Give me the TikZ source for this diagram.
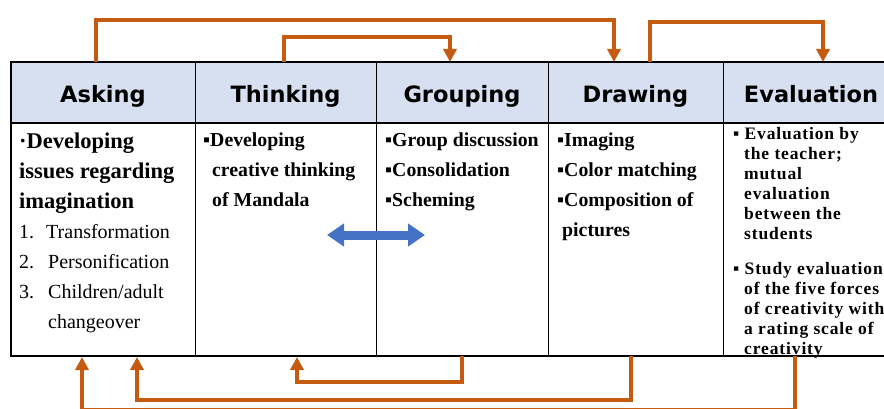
\documentclass[tikz,border=0pt]{standalone}
\usepackage{fontspec}
\setmainfont{Liberation Serif}
\newfontfamily\headfont{DejaVu Sans}
\usetikzlibrary{positioning}
\usetikzlibrary{arrows.meta}
\usetikzlibrary{calc}
\definecolor{rust}{RGB}{197,90,17}
\definecolor{pale}{RGB}{214,224,240}
\definecolor{bleu}{RGB}{68,114,196}
\newcommand\bigline{\fontsize{22.5}{30}\selectfont}
\newcommand\numline[2][29pt]{\mdseries\fontsize{20}{30}\selectfont\makebox[#1][l]{#2}}

\begin{document}
\begin{tikzpicture}[x=1pt, y=-1pt,
  head/.style={draw, fill=pale, line width=1pt, outer sep=0pt, inner sep=0pt, minimum height=61pt, text height=21pt, text depth=0pt, font=\headfont\bfseries\fontsize{22.5}{26}\selectfont},
  cell/.style={draw, line width=1pt, outer sep=0pt, inner sep=0pt, minimum height=233pt},
  txt/.style={anchor=north west, inner sep=0pt, align=left, font=\bfseries\fontsize{19.8}{30}\selectfont},
  small/.style={txt, font=\bfseries\fontsize{17.5}{20}\selectfont\addfontfeatures{LetterSpace=5}},
  flow/.style={draw=rust, line width=3.5pt, -{Triangle[width=13pt,length=13pt]}},
  swap/.style={draw=bleu, line width=9pt, {Triangle[width=22pt,length=17pt]}-{Triangle[width=22pt,length=17pt]}}]
	\clip (0,0) rectangle (884,409);
	
	% header row
	\node[head, minimum width=184pt] (hAsk) at (103,92.5) {Asking};
	\node[head, minimum width=181pt, right=0pt of hAsk] (hThink) {Thinking};
	\node[head, minimum width=172pt, right=0pt of hThink] (hGroup) {Grouping};
	\node[head, minimum width=175pt, right=0pt of hGroup] (hDraw) {Drawing};
	\node[head, minimum width=176pt, right=0pt of hDraw] (hEval) {Evaluation};
	
	% body cells
	\node[cell, minimum width=184pt, below=0pt of hAsk] (bAsk) {};
	\node[cell, minimum width=181pt, below=0pt of hThink] (bThink) {};
	\node[cell, minimum width=172pt, below=0pt of hGroup] (bGroup) {};
	\node[cell, minimum width=175pt, below=0pt of hDraw] (bDraw) {};
	\node[cell, minimum width=176pt, below=0pt of hEval] (bEval) {};
	
	\draw[line width=2.5pt] (hAsk.north west) rectangle (bEval.south east);
	\draw[line width=2pt] (bAsk.north west) -- (bEval.north east);
	
	% cell texts
	\node[txt] (tAsk) at ($(bAsk.north west)+(8,9.2)$) {%
		\bigline ·Developing\\
		\bigline issues regarding\\
		\bigline imagination\\
		\numline[27pt]{1.}Transformation\\
		\numline{2.}Personification\\
		\numline{3.}Children/adult\\
		\numline{}changeover};
	\node[txt] (tThink) at ($(bThink.north west)+(8,9.7)$) {%
		▪Developing\\
		\hspace*{9pt}creative thinking\\
		\hspace*{9pt}of Mandala};
	\node[txt] (tGroup) at ($(bGroup.north west)+(9,9.7)$) {%
		▪Group discussion\\
		▪Consolidation\\
		▪Scheming};
	\node[txt] (tDraw) at ($(bDraw.north west)+(9,9.7)$) {%
		▪Imaging\\
		▪Color matching\\
		▪Composition of\\
		\hspace*{5pt}pictures};
	\node[small] (tEval) at ($(bEval.north west)+(10,4)$) {%
		▪ Evaluation by\\
		\hspace*{11pt}the teacher;\\
		\hspace*{11pt}mutual\\
		\hspace*{11pt}evaluation\\
		\hspace*{11pt}between the\\
		\hspace*{11pt}students\\[15pt]
		▪ Study evaluation\\
		\hspace*{11pt}of the five forces\\
		\hspace*{11pt}of creativity with\\
		\hspace*{11pt}a rating scale of\\
		\hspace*{11pt}creativity};
	
	% feedback arrows
	\draw[flow] ($(hAsk.north west)+(85,0)$) -- ++(0,-42) -| ($(hDraw.north west)+(66,0)$);
	\draw[flow] ($(hThink.north west)+(89,0)$) -- ++(0,-25) -| ($(hGroup.north west)+(74,0)$);
	\draw[flow] ($(hDraw.north west)+(102,0)$) -- ++(0,-40) -| ($(hEval.north west)+(100,0)$);
	\draw[flow] (bGroup.south) -- ++(0,26) -| ($(bThink.south west)+(102,1)$);
	\draw[flow] ($(bDraw.south west)+(83,0)$) -- ++(0,44) -| ($(bAsk.south west)+(126,1)$);
	\draw[flow] ($(bEval.south west)+(72,0)$) -- ++(0,53.5) -| ($(bAsk.south west)+(71,1)$);
	
	\draw[swap] ($(bThink.east)+(-49,-4.5)$) -- ($(bThink.east)+(49,-4.5)$);
\end{tikzpicture}
\end{document}
